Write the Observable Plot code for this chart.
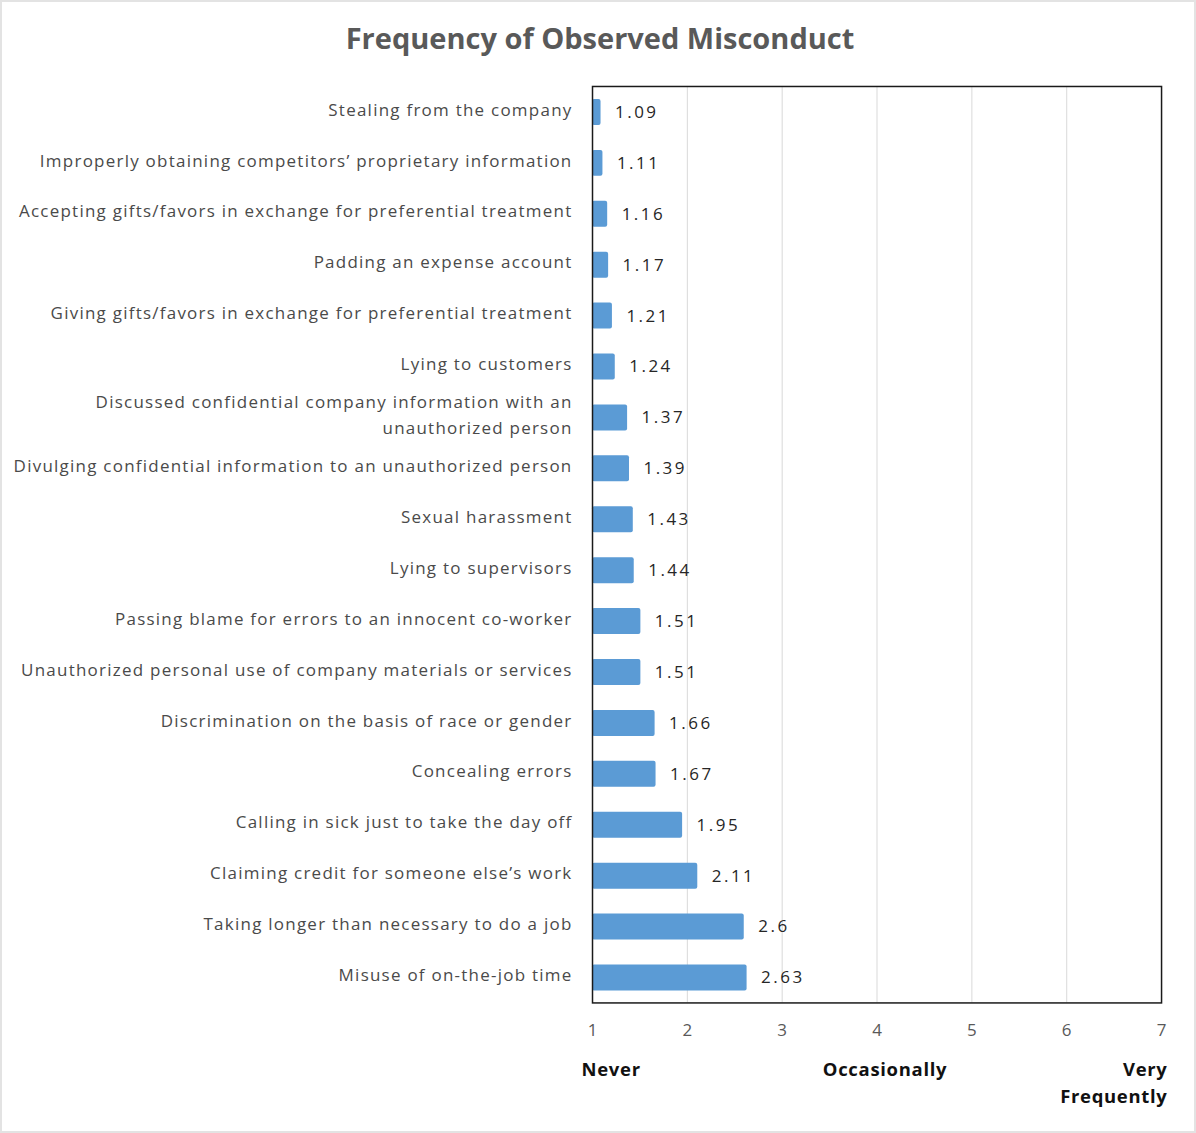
<!DOCTYPE html>
<html>
<head>
<meta charset="utf-8">
<script src="https://cdn.jsdelivr.net/npm/d3@7"></script>
<script src="https://cdn.jsdelivr.net/npm/@observablehq/plot@0.6"></script>
<style>
  html, body { margin: 0; padding: 0; background: #fff; }
  #wrap { position: relative; width: 1196px; height: 1133px; box-sizing: border-box; border: 2px solid #e3e3e3; overflow: hidden; }
  #title { position: absolute; left: 0; top: 16px; width: 1196px; text-align: center; font-family: "Open Sans", sans-serif; font-weight: 700; font-size: 29px; color: #595959; }
  #chart { position: absolute; left: -2px; top: 74px; }
  .mis g[aria-label="y-axis tick label"] text { letter-spacing: 1.25px; }
  .mis g.vals text { letter-spacing: 2.5px; }
  .mis g.anch text { letter-spacing: 0.7px; }
</style>
</head>
<body>
<div id="wrap">
  <div id="title">Frequency of Observed Misconduct</div>
  <div id="chart"></div>
</div>
<script>
const categories = [
  "Stealing from the company",
  "Improperly obtaining competitors’ proprietary information",
  "Accepting gifts/favors in exchange for preferential treatment",
  "Padding an expense account",
  "Giving gifts/favors in exchange for preferential treatment",
  "Lying to customers",
  "Discussed confidential company information with an\nunauthorized person",
  "Divulging confidential information to an unauthorized person",
  "Sexual harassment",
  "Lying to supervisors",
  "Passing blame for errors to an innocent co-worker",
  "Unauthorized personal use of company materials or services",
  "Discrimination on the basis of race or gender",
  "Concealing errors",
  "Calling in sick just to take the day off",
  "Claiming credit for someone else’s work",
  "Taking longer than necessary to do a job",
  "Misuse of on-the-job time"
];
const values = [1.09, 1.11, 1.16, 1.17, 1.21, 1.24, 1.37, 1.39, 1.43, 1.44, 1.51, 1.51, 1.66, 1.67, 1.95, 2.11, 2.6, 2.63];
const xTicks = [1, 2, 3, 4, 5, 6, 7];
const anchorNever = "Never";
const anchorMid = "Occasionally";
const anchorTop = "Very\nFrequently";

const data = categories.map((c, i) => ({cat: c, value: values[i]}));

const font = "'Open Sans', sans-serif";
const anchorStyle = {frameAnchor: "bottom", lineAnchor: "top", dy: 54, fontWeight: 700, fontSize: 18.5, fill: "#111", lineHeight: 1.45, className: "anch"};

const chart = Plot.plot({
  className: "mis",
  width: 1196,
  height: 1056,
  marginTop: 10,
  marginBottom: 128,
  marginLeft: 593,
  marginRight: 33,
  style: {fontFamily: font, background: "transparent"},
  x: {domain: [1, 7], ticks: xTicks},
  y: {domain: categories, paddingInner: 0.5, paddingOuter: 0.25},
  marks: [
    Plot.gridX(xTicks, {stroke: "#d9d9d9", strokeOpacity: 1, strokeWidth: 1}),
    Plot.barX(data, {x1: 1, x2: "value", y: "cat", fill: "#5b9bd5", rx: 2}),
    Plot.text(data, {x: "value", y: "cat", text: d => String(d.value), textAnchor: "start", dx: 14, dy: 0, fontSize: 17, fill: "#262626", className: "vals"}),
    Plot.frame({stroke: "#1a1a1a", strokeWidth: 1.5}),
    Plot.axisY({tickSize: 0, tickPadding: 20, dy: -5, fontSize: 17, fill: "#4a4a4a", label: null, lineHeight: 1.5}),
    Plot.axisX(xTicks, {tickSize: 0, tickPadding: 21, fontSize: 17, fill: "#595959", label: null, tickFormat: d => String(d)}),
    Plot.text([anchorNever], {...anchorStyle, x: () => xTicks[0], text: d => d, textAnchor: "start", dx: -11}),
    Plot.text([anchorMid], {...anchorStyle, x: () => xTicks[3], text: d => d, textAnchor: "middle", dx: 8}),
    Plot.text([anchorTop], {...anchorStyle, x: () => xTicks[6], text: d => d, textAnchor: "end", dx: 6})
  ]
});
document.getElementById("chart").appendChild(chart);
</script>
</body>
</html>
